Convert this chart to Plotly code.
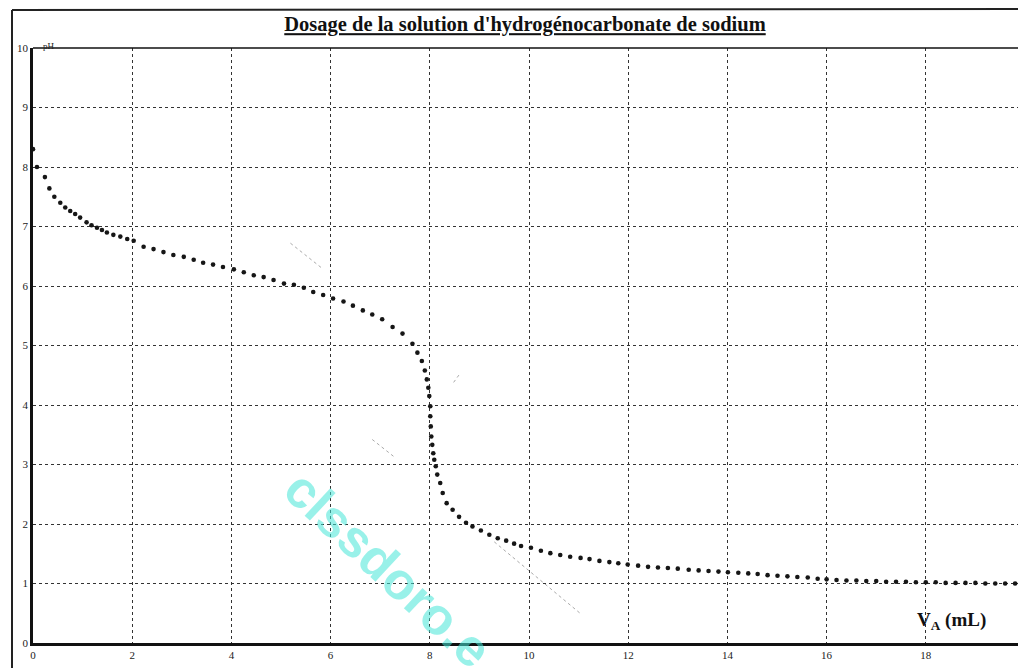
import plotly.graph_objects as go

# ---- data ----
va_ml = [0.0, 0.08, 0.24, 0.33, 0.43, 0.55, 0.65, 0.75, 0.85, 0.95, 1.08, 1.18, 1.29, 1.39, 1.49, 1.62,
         1.76, 1.90, 2.03, 2.23, 2.43, 2.63, 2.83, 3.04, 3.24, 3.43, 3.63, 3.83, 4.05,
         4.25, 4.45, 4.65, 4.85, 5.06, 5.26, 5.46, 5.65, 5.85, 6.05, 6.26, 6.45,
         6.65, 6.84, 7.04, 7.25, 7.45, 7.65, 7.75, 7.84, 7.90, 7.94, 7.97, 7.99,
         8.01, 8.01, 8.02, 8.03, 8.05, 8.07, 8.09, 8.12, 8.15, 8.21, 8.26, 8.34,
         8.46, 8.59, 8.73, 8.86, 9.03, 9.20, 9.37, 9.54, 9.70, 9.84, 10.04,
         10.24, 10.43, 10.63, 10.83, 11.04, 11.22, 11.42, 11.62, 11.80, 11.99,
         12.20, 12.40, 12.60, 12.80, 13.00, 13.22, 13.42, 13.62, 13.82, 14.01,
         14.22, 14.42, 14.61, 14.81, 15.01, 15.21, 15.41, 15.62, 15.82, 16.00,
         16.20, 16.40, 16.60, 16.80, 17.00, 17.20, 17.40, 17.60, 17.80, 18.00,
         18.20, 18.40, 18.60, 18.80, 19.00, 19.20, 19.40, 19.60, 19.80, 20.00]
ph = [8.30, 8.00, 7.83, 7.64, 7.50, 7.40, 7.32, 7.26, 7.21, 7.15, 7.07, 7.02, 6.98, 6.94, 6.90, 6.86,
      6.83, 6.79, 6.76, 6.66, 6.62, 6.57, 6.52, 6.49, 6.44, 6.39, 6.36, 6.32, 6.28,
      6.23, 6.18, 6.15, 6.10, 6.04, 6.02, 5.97, 5.90, 5.85, 5.79, 5.74, 5.67,
      5.59, 5.52, 5.44, 5.31, 5.20, 5.03, 4.88, 4.74, 4.58, 4.43, 4.29, 4.15,
      3.98, 3.81, 3.64, 3.47, 3.33, 3.19, 3.08, 2.97, 2.83, 2.69, 2.52, 2.35,
      2.24, 2.12, 2.02, 1.96, 1.89, 1.82, 1.76, 1.72, 1.67, 1.63, 1.60,
      1.55, 1.51, 1.48, 1.45, 1.43, 1.41, 1.38, 1.36, 1.34, 1.32,
      1.30, 1.28, 1.27, 1.26, 1.25, 1.23, 1.22, 1.21, 1.20, 1.19,
      1.18, 1.17, 1.16, 1.14, 1.13, 1.12, 1.11, 1.10, 1.08, 1.07,
      1.06, 1.05, 1.05, 1.04, 1.04, 1.03, 1.03, 1.03, 1.02, 1.02,
      1.02, 1.01, 1.01, 1.01, 1.01, 1.00, 1.00, 1.00, 1.00, 1.00]

x_ticks = [0, 2, 4, 6, 8, 10, 12, 14, 16, 18, 20]
x_tick_labels = ["0", "2", "4", "6", "8", "10", "12", "14", "16", "18", "20"]
y_ticks = [0, 1, 2, 3, 4, 5, 6, 7, 8, 9, 10]
y_tick_labels = ["0", "1", "2", "3", "4", "5", "6", "7", "8", "9", "10"]

# faint tangent strokes visible on the scan (start x, start y, end x, end y)
tangent_x0 = [5.19, 8.48, 6.84, 9.30]
tangent_y0 = [6.72, 4.38, 3.42, 1.70]
tangent_x1 = [5.81, 8.61, 7.31, 11.03]
tangent_y1 = [6.31, 4.53, 3.11, 0.50]

title_text = "Dosage de la solution d'hydrogénocarbonate de sodium"
x_label = "V<sub>A</sub> (mL)"
y_label = "pH"
watermark = "clssdoro.e"

# the page has an 8px body margin; figure is sized to fit the window
OFF = 8
W, H = 1026 - OFF, 668 - OFF
ML, MR, MT, MB = 33 - OFF, 1, 48 - OFF, 25

fig = go.Figure()

for a, b, c, d in zip(tangent_x0, tangent_y0, tangent_x1, tangent_y1):
    fig.add_trace(go.Scatter(x=[a, c], y=[b, d], mode="lines",
                             line=dict(color="#aaaaaa", width=1, dash="dot"),
                             hoverinfo="skip", showlegend=False))

fig.add_trace(go.Scatter(x=va_ml, y=ph, mode="markers",
                         marker=dict(color="#161616", size=4.6, symbol="circle"),
                         showlegend=False))

serif = "Liberation Serif, Times New Roman, serif"

# helpers: window pixel -> paper fraction
px = lambda p: (p - OFF - ML) / (W - ML - MR)
py = lambda p: 1 - (p - OFF - MT) / (H - MT - MB)

fig.update_layout(
    width=W, height=H,
    margin=dict(l=ML, r=MR, t=MT, b=MB, autoexpand=False),
    paper_bgcolor="white", plot_bgcolor="white",
    font=dict(family=serif, color="black"),
    title=dict(text="<u><b>" + title_text + "</b></u>", x=(525 - OFF) / W, xanchor="center",
               y=1 - (24 - OFF) / H, yanchor="middle",
               font=dict(family=serif, size=20.5, color="#111")),
    xaxis=dict(range=[0, 20], tickvals=x_ticks, ticktext=x_tick_labels,
               showgrid=True, gridcolor="#333", griddash="dot", gridwidth=1,
               showline=True, linecolor="#111", linewidth=2.5,
               ticks="", zeroline=False, automargin=False,
               tickfont=dict(family=serif, size=11, color="#222")),
    yaxis=dict(range=[0, 10], tickvals=y_ticks, ticktext=y_tick_labels,
               showgrid=True, gridcolor="#333", griddash="dot", gridwidth=1,
               showline=True, linecolor="#111", linewidth=2.5,
               ticks="", zeroline=False, automargin=False, ticklabelstandoff=0,
               tickfont=dict(family=serif, size=11, color="#222")),
)

# thin top and right borders of the plotting frame
fig.add_shape(type="line", xref="paper", yref="paper", x0=0, x1=1, y0=1, y1=1,
              line=dict(color="#111", width=1.5))
fig.add_shape(type="line", xref="paper", yref="paper", x0=1, x1=1, y0=0, y1=1,
              line=dict(color="#111", width=1.5))

# outer frame of the scanned page
fig.add_shape(type="line", xref="paper", yref="paper",
              x0=px(12), x1=px(1026), y0=py(10), y1=py(9),
              line=dict(color="#222", width=2))
fig.add_shape(type="line", xref="paper", yref="paper",
              x0=px(12), x1=px(12), y0=py(10), y1=py(668),
              line=dict(color="#222", width=2))

# last x tick label, partly cut by the right edge as on the scan
fig.add_annotation(text=x_tick_labels[-1], x=x_ticks[-1], y=0, yref="y",
                   yshift=-13, xanchor="center", showarrow=False,
                   font=dict(family=serif, size=11, color="#222"))

# axis captions
fig.add_annotation(text=y_label, xref="paper", yref="paper", x=px(41), y=py(39),
                   showarrow=False, font=dict(family=serif, size=9, color="#222"))
fig.add_annotation(text="<b>" + x_label + "</b>", xref="paper", yref="paper",
                   x=px(988), y=py(621), xanchor="right", yanchor="middle",
                   showarrow=False, font=dict(family=serif, size=19, color="#111"))

# watermark
fig.add_annotation(text="<b>" + watermark + "</b>", x=7.16, y=1.24,
                   showarrow=False, textangle=43,
                   font=dict(family="Liberation Sans, Arial, sans-serif", size=52,
                             color="rgba(70,230,215,0.55)"))

fig.write_html("out.html")
